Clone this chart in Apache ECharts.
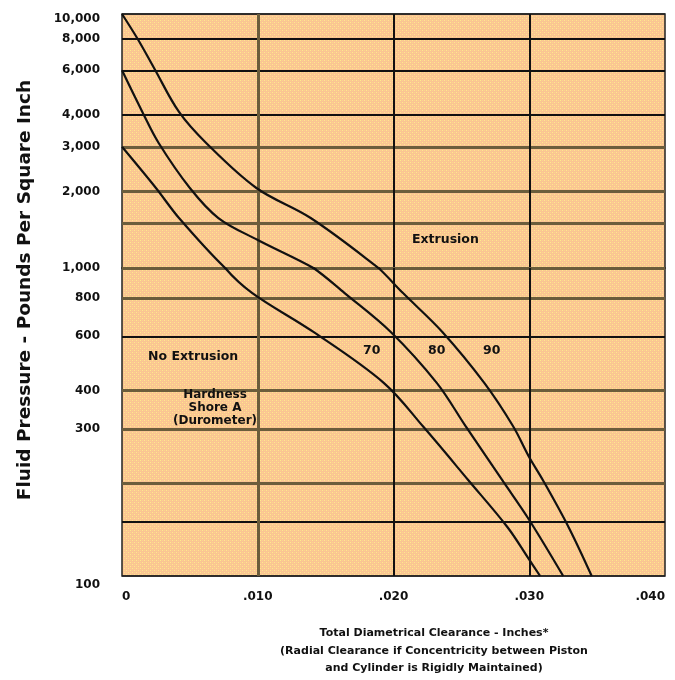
<!DOCTYPE html>
<html>
<head>
<meta charset="utf-8">
<script src="https://cdn.jsdelivr.net/npm/echarts@6/dist/echarts.min.js"></script>
<style>
  html, body { margin: 0; padding: 0; background: #fff; }
  #chart { width: 675px; height: 680px; }
</style>
</head>
<body>
<div id="chart"></div>
<script>
// clearance (inches) vs pressure (psi)
var clearanceTicks = [0, 0.01, 0.02, 0.03, 0.04];
var clearanceLabels = ['0', '.010', '.020', '.030', '.040'];

var pressureLines = [10000, 8000, 6000, 4000, 3000, 2000, 1500, 1000, 800, 600, 400, 300, 200, 150, 100];
var pressureLabels = ['10,000', '8,000', '6,000', '4,000', '3,000', '2,000', '', '1,000', '800', '600', '400', '300', '', '', '100'];
var heavyPressure = [8000, 6000, 4000, 600, 150];   // drawn black, the others olive
var heavyClearance = [0.02, 0.03];

// hardness 70 / 80 / 90 shore A curves
var shore70 = [[0, 3000], [0.0025, 2065], [0.0042, 1573], [0.0076, 1000], [0.0096, 829], [0.0141, 620],
  [0.0193, 423], [0.0222, 305], [0.0255, 205], [0.0284, 144], [0.0300, 113], [0.0308, 100]];
var shore80 = [[0, 6000], [0.0015, 4114], [0.0027, 3105], [0.0050, 2065], [0.0071, 1573], [0.0100, 1289],
  [0.0141, 1000], [0.0164, 829], [0.0198, 620], [0.0232, 423], [0.0253, 307], [0.0280, 205], [0.0300, 152],
  [0.0325, 100]];
var shore90 = [[0, 10000], [0.0012, 7900], [0.0024, 6075], [0.0042, 4114], [0.0062, 3105], [0.0099, 2065],
  [0.0139, 1573], [0.0189, 1000], [0.0207, 829], [0.0236, 620], [0.0267, 423], [0.0288, 307], [0.0300, 243],
  [0.0310, 205], [0.0329, 144], [0.0346, 100]];

var FONT = '"DejaVu Sans", sans-serif';
var INK = '#111';
var OLIVE = '#6b5d3c';

// dotted orange paper
var pat = document.createElement('canvas');
pat.width = 4; pat.height = 4;
var pc = pat.getContext('2d');
pc.fillStyle = '#fac592';
pc.fillRect(0, 0, 4, 4);
pc.fillStyle = '#ffe98c';
pc.fillRect(0, 0, 1, 1);
pc.fillRect(2, 2, 1, 1);
pc.fillStyle = '#fbd192';
pc.fillRect(2, 0, 1, 1);
pc.fillRect(0, 2, 1, 1);

// the printed scale gives the lower decade more room, so two stacked log grids
var ranges = [[1000, 10000], [100, 1000]];

function gridLines(g) {
  var lo = ranges[g][0], hi = ranges[g][1];
  var out = [];
  pressureLines.forEach(function (v, i) {
    var inside = g === 0 ? (v > lo && v <= hi) : (v >= lo && v <= hi);
    if (!inside) return;
    var edge = (v === 10000 || v === 100);
    var heavy = heavyPressure.indexOf(v) >= 0;
    var off = v === 10000 ? 5 : (v === 100 ? 9 : 0);
    out.push({
      yAxis: v,
      lineStyle: edge ? { color: '#222', width: 1.5, type: 'solid' }
        : { color: heavy ? INK : OLIVE, width: heavy ? 2 : 3, type: 'solid' },
      label: {
        show: pressureLabels[i] !== '',
        formatter: pressureLabels[i],
        position: 'start',
        distance: 22,
        offset: [0, off],
        color: INK,
        fontFamily: FONT,
        fontWeight: 'bold',
        fontSize: 12
      }
    });
  });
  clearanceTicks.forEach(function (c) {
    if (c === 0 || c === 0.04) return;
    var heavy = heavyClearance.indexOf(c) >= 0;
    out.push({
      xAxis: c,
      lineStyle: { color: heavy ? INK : OLIVE, width: heavy ? 2 : 3, type: 'solid' },
      label: { show: false }
    });
  });
  return out;
}

var grids = [], xAxes = [], yAxes = [], series = [];
[0, 1].forEach(function (g) {
  grids.push({
    left: 122, width: 543,
    top: g === 0 ? 14 : 268,
    height: g === 0 ? 254 : 308,
    show: true,
    backgroundColor: { image: pat, repeat: 'repeat' },
    borderColor: '#222',
    borderWidth: 1.5
  });
  xAxes.push({
    gridIndex: g, type: 'value', min: 0, max: 0.04, interval: 0.01,
    axisLine: { show: false }, axisTick: { show: false }, splitLine: { show: false },
    axisLabel: {
      show: g === 1,
      margin: 15,
      color: INK, fontFamily: FONT, fontWeight: 'bold', fontSize: 12,
      alignMinLabel: 'left', alignMaxLabel: 'right',
      formatter: function (v) { return clearanceLabels[Math.round(v / 0.01)]; }
    }
  });
  yAxes.push({
    gridIndex: g, type: 'log', logBase: 10, min: ranges[g][0], max: ranges[g][1],
    axisLine: { show: false }, axisTick: { show: false }, splitLine: { show: false },
    axisLabel: { show: false }
  });
  [shore70, shore80, shore90].forEach(function (curve, k) {
    var s = {
      type: 'line', name: ['70', '80', '90'][k],
      xAxisIndex: g, yAxisIndex: g,
      data: curve,
      smooth: 0.35,
      showSymbol: false,
      clip: true,
      silent: true,
      z: 3,
      lineStyle: { color: INK, width: 2.2 }
    };
    if (k === 0) {
      s.markLine = { symbol: 'none', silent: true, animation: false, z: 2, data: gridLines(g) };
    }
    series.push(s);
  });
});

function txt(x, y, text, size, align, extra) {
  var o = {
    type: 'text', x: x, y: y, z: 100,
    style: {
      text: text, fill: INK, font: 'bold ' + size + 'px ' + FONT,
      textAlign: align || 'left', textVerticalAlign: 'middle'
    }
  };
  if (extra) Object.assign(o.style, extra);
  return o;
}

var chart = echarts.init(document.getElementById('chart'), null, { renderer: 'canvas' });
chart.setOption({
  animation: false,
  grid: grids,
  xAxis: xAxes,
  yAxis: yAxes,
  series: series,
  graphic: [
    {
      type: 'text', x: 25, y: 290, rotation: Math.PI / 2, z: 100,
      style: {
        text: 'Fluid Pressure - Pounds Per Square Inch', fill: INK,
        font: 'bold 18.5px ' + FONT, textAlign: 'center', textVerticalAlign: 'middle'
      }
    },
    txt(412, 240, 'Extrusion', 12.5),
    txt(148, 357, 'No Extrusion', 12.5),
    txt(363, 351, '70', 12.5),
    txt(428, 351, '80', 12.5),
    txt(483, 351, '90', 12.5),
    txt(215, 408, 'Hardness\nShore A\n(Durometer)', 12, 'center', { lineHeight: 13 }),
    {
      type: 'text', x: 434, y: 651, z: 100,
      style: {
        text: 'Total Diametrical Clearance - Inches*\n(Radial Clearance if Concentricity between Piston\nand Cylinder is Rigidly Maintained)',
        fill: INK, font: 'bold 11px ' + FONT, textAlign: 'center', textVerticalAlign: 'middle', lineHeight: 17.5
      }
    }
  ]
});
</script>
</body>
</html>
